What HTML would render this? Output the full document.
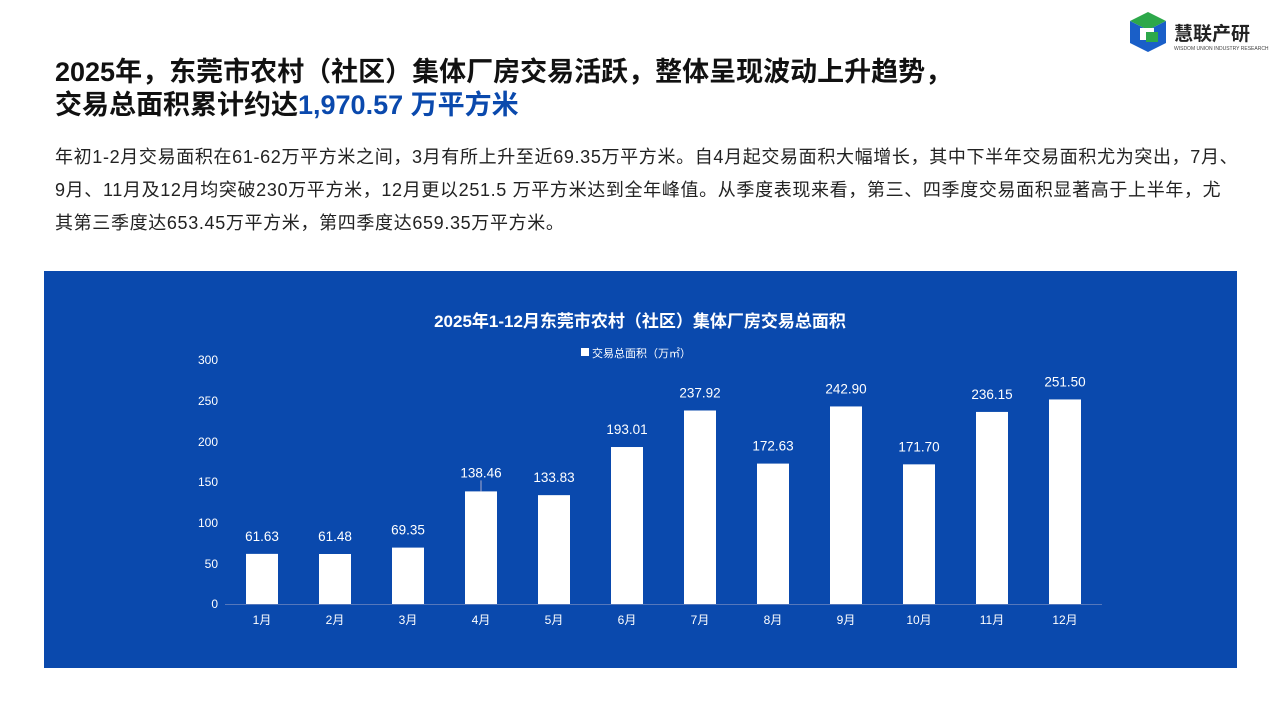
<!DOCTYPE html>
<html><head><meta charset="utf-8"><style>
body{margin:0;width:1280px;height:720px;background:#fff;position:relative;overflow:hidden;font-family:"Liberation Sans","Noto Sans CJK SC",sans-serif;}
.h{position:absolute;left:55px;top:56px;font-size:27px;font-weight:bold;color:#111;line-height:33px;white-space:nowrap;}
.h span{color:#0a49ad}
.p{position:absolute;left:55px;top:141px;font-size:18px;color:#222;line-height:33px;white-space:nowrap;letter-spacing:0.65px;}
.panel{position:absolute;left:44px;top:271px;width:1193px;height:397px;background:#0a49ad;}
</style></head><body>
<svg style="position:absolute;left:1126px;top:10px" width="150" height="46">
<polygon points="22,2 40,11 22,20 4,11" fill="#2da84a"/>
<polygon points="4,11 22,20 22,42 4,33" fill="#1a5fc8"/>
<polygon points="22,20 40,11 40,33 22,42" fill="#1a5fc8"/>
<rect x="14" y="18" width="14" height="12" fill="#fff"/>
<rect x="20" y="22" width="12" height="10" fill="#2da84a"/>
<text x="48" y="30" font-size="19" font-weight="bold" fill="#222" font-family="Noto Sans CJK SC,sans-serif">慧联产研</text>
<text x="48" y="40" font-size="5" fill="#444">WISDOM UNION INDUSTRY RESEARCH</text>
</svg>
<div class="h">2025年，东莞市农村（社区）集体厂房交易活跃，整体呈现波动上升趋势，<br>交易总面积累计约达<span>1,970.57 万平方米</span></div>
<div class="p">年初1-2月交易面积在61-62万平方米之间，3月有所上升至近69.35万平方米。自4月起交易面积大幅增长，其中下半年交易面积尤为突出，7月、<br>9月、11月及12月均突破230万平方米，12月更以251.5 万平方米达到全年峰值。从季度表现来看，第三、四季度交易面积显著高于上半年，尤<br>其第三季度达653.45万平方米，第四季度达659.35万平方米。</div>
<div class="panel"></div>
<svg style="position:absolute;left:0;top:0" width="1280" height="720" font-family="Liberation Sans,Noto Sans CJK SC,sans-serif">
<text x="640" y="327" font-size="17" font-weight="bold" fill="#fff" text-anchor="middle">2025年1-12月东莞市农村（社区）集体厂房交易总面积</text>
<rect x="581" y="348" width="8" height="8" fill="#fff"/>
<text x="592" y="357" font-size="11" fill="#fff">交易总面积（万㎡）</text>
<g font-size="12" fill="#fff" text-anchor="end">
<text x="218" y="608">0</text><text x="218" y="568">50</text><text x="218" y="527">100</text><text x="218" y="486">150</text><text x="218" y="446">200</text><text x="218" y="405">250</text><text x="218" y="364">300</text>
</g>
<line x1="225" y1="604.5" x2="1102" y2="604.5" stroke="#5577bb" stroke-width="1"/>
<g id="bars" fill="#fff" font-size="13.5" text-anchor="middle"></g>
</svg>
<script>
var v=[61.63,61.48,69.35,138.46,133.83,193.01,237.92,172.63,242.90,171.70,236.15,251.50];
var g=document.getElementById('bars'),s='';
v.forEach(function(d,i){var c=262+i*73,h=d*244/300,y=604-h;
s+='<rect x="'+(c-16)+'" y="'+y+'" width="32" height="'+h+'"/>';
s+='<text x="'+c+'" y="'+(i==3?y-14:y-13)+'">'+d.toFixed(2)+'</text>';
if(i==3)s+='<line x1="'+c+'" y1="'+(y-11)+'" x2="'+c+'" y2="'+y+'" stroke="#aac" />';
s+='<text x="'+c+'" y="624" font-size="12">'+(i+1)+'月</text>';});
g.innerHTML=s;
</script>
</body></html>
